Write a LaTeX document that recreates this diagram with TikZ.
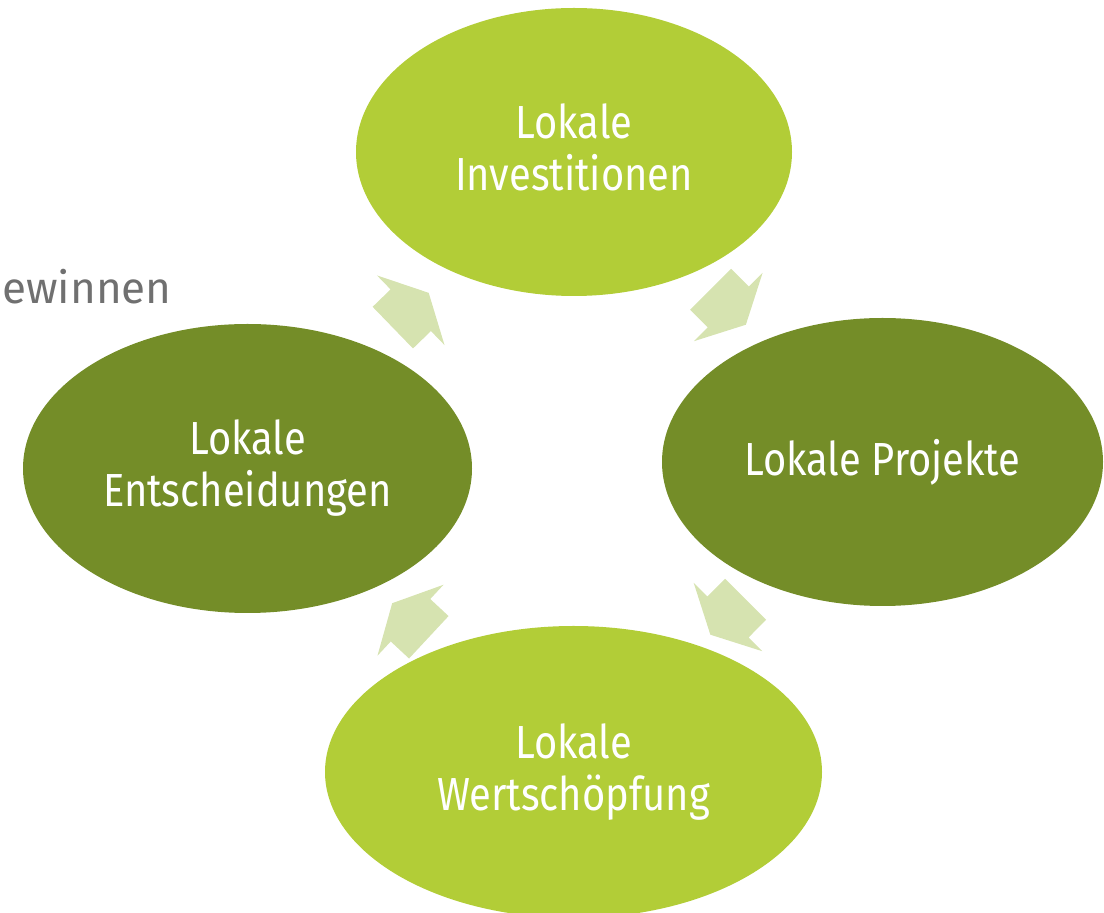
\documentclass[tikz,border=0pt]{standalone}
\usepackage{fontspec}
\setmainfont{Fira Sans}[FakeStretch=0.86]
\newfontfamily\widefont{Fira Sans}
\usetikzlibrary{shapes.geometric}

\definecolor{lightgreen}{RGB}{178,205,55}
\definecolor{darkgreen}{RGB}{116,141,40}
\definecolor{arrowgreen}{RGB}{214,227,176}
\definecolor{labelgray}{RGB}{112,112,112}

\tikzset{
  stage/.style={ellipse, inner sep=0pt, text=white, align=center,
    font=\fontsize{23.2}{26}\selectfont, text depth=5pt},
  lightstage/.style={stage, fill=lightgreen},
  darkstage/.style={stage, fill=darkgreen},
  pics/flowarrow/.style={code={
    \fill[arrowgreen] (-25,-29) -- (0,-29) -- (0,-48.5) -- (25,0) -- (0,48.5) -- (0,29) -- (-25,29) -- cycle;
  }}
}

\begin{document}
\begin{tikzpicture}[x=0.5pt, y=-0.5pt]
  \useasboundingbox (0,0) rectangle (1104,913);
  \clip (0,0) rectangle (1104,913);

  \node[lightstage, minimum width=218pt, minimum height=144pt] (invest) at (574,152) {Lokale\\Investitionen};
  \node[darkstage, minimum width=220.5pt, minimum height=144pt] (projekt) at (882.5,462) {Lokale Projekte};
  \node[lightstage, minimum width=248.5pt, minimum height=146pt] (wert) at (573.5,772) {Lokale\\Wertschöpfung};
  \node[darkstage, minimum width=224.5pt, minimum height=144.5pt] (entsch) at (247.5,468.5) {Lokale\\Entscheidungen};

  \path (entsch.center) -- pic[pos=0.5, sloped, allow upside down] {flowarrow} (invest.center);
  \path (invest.center) -- pic[pos=0.5, sloped, allow upside down] {flowarrow} (projekt.center);
  \path (projekt.center) -- pic[pos=0.5, sloped, allow upside down] {flowarrow} (wert.center);
  \path (wert.center) -- pic[pos=0.5, sloped, allow upside down] {flowarrow} (entsch.center);

  \node[anchor=base west, inner sep=0pt, text=labelgray, font=\widefont\fontsize{22}{25}\selectfont] (gewinn) at (2,304) {ewinnen};
\end{tikzpicture}
\end{document}
